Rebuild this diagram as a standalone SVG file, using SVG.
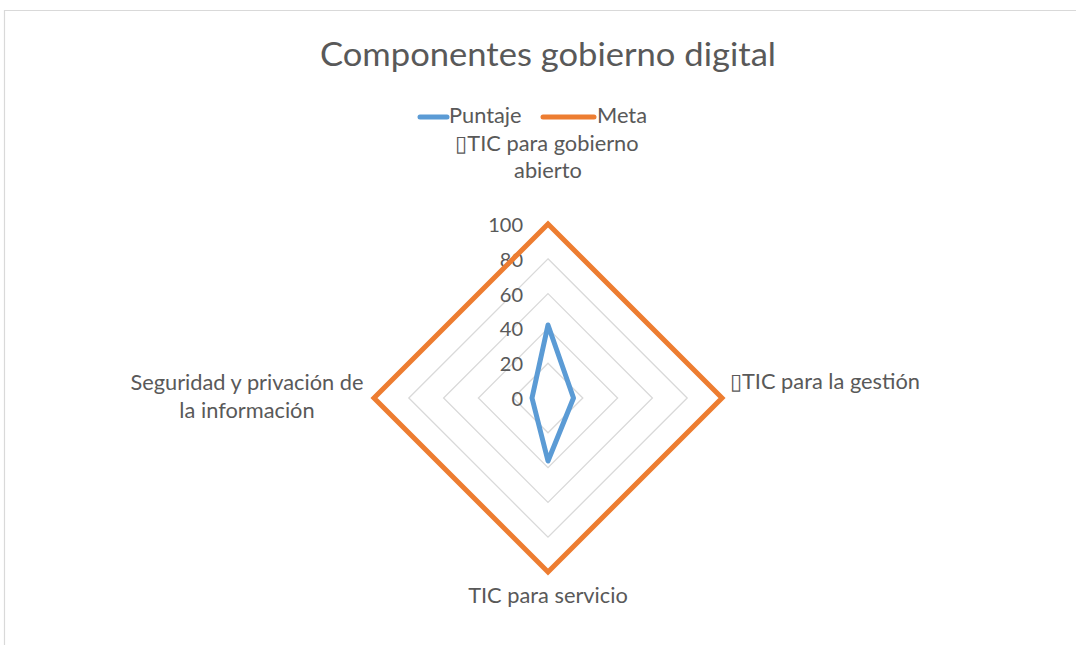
<svg xmlns="http://www.w3.org/2000/svg" width="1076" height="645" viewBox="0 0 1076 645">
<style>
text{font-family:Lato,"Open Sans","Liberation Sans",sans-serif;fill:#595959}
.t{font-size:32px}
.l{font-size:21.8px}
.ax{font-size:20px;text-anchor:end}
.g{fill:none;stroke:#d9d9d9;stroke-width:1.3}
</style>
<rect x="0" y="0" width="1076" height="645" fill="#fff"/>
<path d="M4.5 645 V10.5 H1076" fill="none" stroke="#d9d9d9" stroke-width="1.2"/>
<g id="title"><text class="t" x="548" y="66" text-anchor="middle" textLength="456" lengthAdjust="spacingAndGlyphs">Componentes gobierno digital</text></g>
<g id="legend">
<line x1="420" y1="117" x2="447" y2="117" stroke="#5b9bd5" stroke-width="5" stroke-linecap="round"/>
<text class="l" x="449" y="123">Puntaje</text>
<line x1="543" y1="117" x2="594" y2="117" stroke="#ed7d31" stroke-width="5" stroke-linecap="round"/>
<text class="l" x="597" y="123">Meta</text>
</g>
<g id="grid">
<polygon class="g" points="548,363.2 582.8,398 548,432.8 513.2,398"/>
<polygon class="g" points="548,328.4 617.6,398 548,467.6 478.4,398"/>
<polygon class="g" points="548,293.6 652.4,398 548,502.4 443.6,398"/>
<polygon class="g" points="548,258.8 687.2,398 548,537.2 408.8,398"/>
</g>
<g id="axis-labels">
<text class="ax" x="523" y="232">100</text>
<text class="ax" x="523" y="267">80</text>
<text class="ax" x="523" y="302">60</text>
<text class="ax" x="523" y="336">40</text>
<text class="ax" x="523" y="371">20</text>
<text class="ax" x="523" y="406">0</text>
</g>
<g id="series">
<polygon id="meta" points="548,224 722,398 548,572 374,398" fill="none" stroke="#ed7d31" stroke-width="5" stroke-linejoin="miter"/>
<polygon id="puntaje" points="548,325 573.5,398 548,461 532,398" fill="none" stroke="#5b9bd5" stroke-width="5" stroke-linejoin="round"/>
</g>
<g id="cat-top"><text class="l" x="547" y="151" text-anchor="middle">▯TIC para gobierno</text><text class="l" x="548" y="178" text-anchor="middle">abierto</text></g>
<g id="cat-right"><text class="l" x="730" y="389">▯TIC para la gestión</text></g>
<g id="cat-left"><text class="l" x="247" y="390" text-anchor="middle">Seguridad y privación de</text><text class="l" x="247" y="418" text-anchor="middle">la información</text></g>
<g id="cat-bottom"><text class="l" x="548" y="603" text-anchor="middle">TIC para servicio</text></g>
</svg>
